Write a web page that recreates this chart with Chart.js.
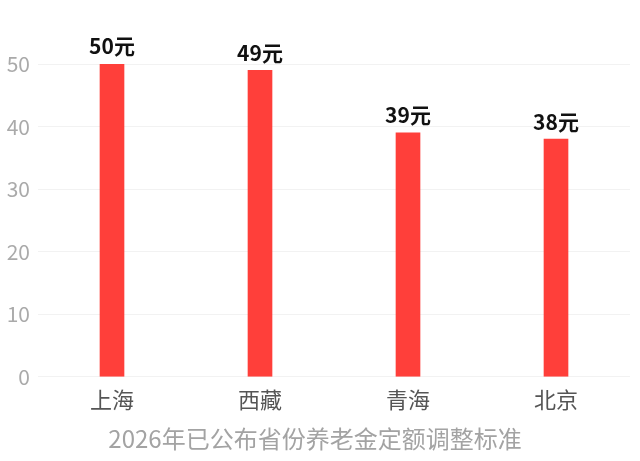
<!DOCTYPE html>
<html>
<head>
<meta charset="utf-8">
<script src="https://cdn.jsdelivr.net/npm/chart.js@4"></script>
<style>
  html, body { margin: 0; padding: 0; background: #fff; }
  #wrap { width: 640px; height: 461px; }
</style>
</head>
<body>
<div id="wrap"><canvas id="c"></canvas></div>
<script>
const provinces = ['上海', '西藏', '青海', '北京'];
const amounts = [50, 49, 39, 38];
const yTicks = [0, 10, 20, 30, 40, 50];
const titleText = '2026年已公布省份养老金定额调整标准';

const FONT = "'Noto Sans CJK SC', 'Noto Sans', sans-serif";

// draw "50元" etc. above each bar
const valueLabels = {
  id: 'valueLabels',
  afterDatasetsDraw(chart) {
    const ctx = chart.ctx;
    const meta = chart.getDatasetMeta(0);
    ctx.save();
    ctx.font = 'bold 21px ' + FONT;
    ctx.fillStyle = '#111';
    ctx.textAlign = 'center';
    ctx.textBaseline = 'bottom';
    meta.data.forEach((bar, i) => {
      ctx.fillText(amounts[i] + '元', bar.x, bar.y - 7);
    });
    ctx.restore();
  }
};

new Chart(document.getElementById('c'), {
  type: 'bar',
  data: {
    labels: provinces,
    datasets: [{
      data: amounts,
      backgroundColor: '#ff3f3a',
      barThickness: 24,
    }]
  },
  options: {
    responsive: true,
    maintainAspectRatio: false,
    animation: false,
    layout: { padding: { top: 64, right: 10, left: 0, bottom: 6 } },
    plugins: {
      legend: { display: false },
      tooltip: { enabled: false },
      title: {
        display: true,
        position: 'bottom',
        text: titleText,
        color: '#a3a3a3',
        font: { family: FONT, size: 24, weight: 'normal' },
        padding: { top: 9, bottom: 2 }
      }
    },
    scales: {
      x: {
        grid: { display: false },
        border: { display: false },
        ticks: {
          color: '#555',
          font: { family: FONT, size: 22 },
          padding: 2
        }
      },
      y: {
        min: 0,
        max: 50,
        afterFit(scale) { scale.width = 38; },
        afterBuildTicks(scale) { scale.ticks = yTicks.map(v => ({ value: v })); },
        grid: { color: '#f2f2f2', drawTicks: false },
        border: { display: false },
        ticks: {
          color: '#aaa',
          font: { family: FONT, size: 21 },
          padding: 8
        }
      }
    }
  },
  plugins: [valueLabels]
});
</script>
</body>
</html>
